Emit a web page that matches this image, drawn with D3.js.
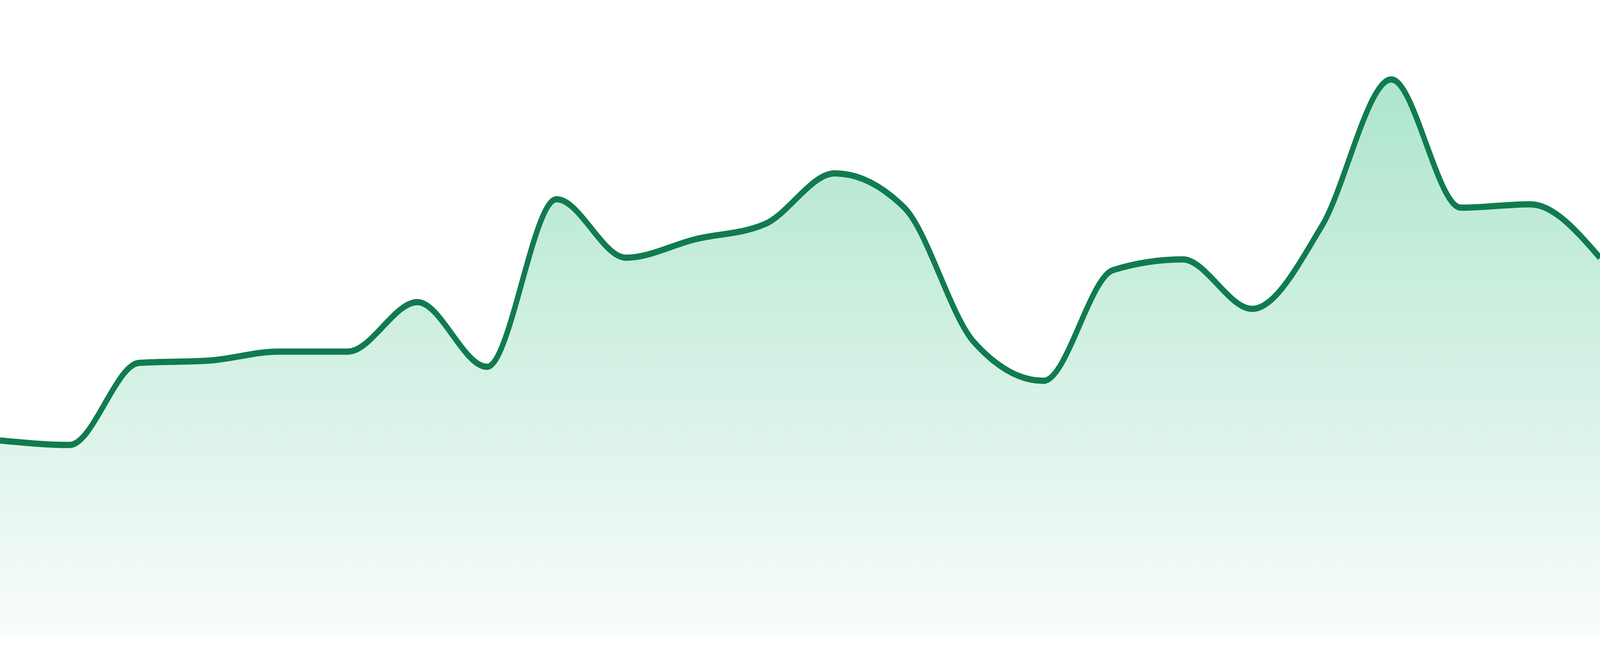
<head>
    <title>Area sparkline</title>
    <script src="https://d3js.org/d3.v7.min.js"></script>
    <style>
        html, body {
            margin: 0;
            width: 100%;
            height: 100%;
            overflow: hidden;
            background: #ffffff;
        }
        svg {
            display: block;
            width: 100vw;
            height: 100vh;
        }
    </style>
</head>
<body>
    <svg id="chart"></svg>

    <script>
        // Series (24 evenly spaced samples)
        const steps = d3.range(24);
        const values = [35.0, 34.2, 48.8, 49.2, 50.8, 50.8, 59.6, 48.1,
                        77.9, 67.5, 70.8, 73.5, 82.5, 76.4, 52.5, 45.6,
                        65.3, 67.2, 58.4, 73.1, 99.2, 76.4, 77.0, 67.5];

        // drawing space, stretched to whatever the window is
        const width = 4800;
        const height = 1680;
        const bottom = 1632;

        const svg = d3.select("#chart")
            .attr("viewBox", `0 0 ${width} ${height}`)
            .attr("preserveAspectRatio", "none");

        const x = d3.scaleLinear()
            .domain([0, steps.length - 1])
            .range([0, width]);

        const y = d3.scaleLinear()
            .domain([0, 100])
            .range([bottom, 192]);

        // Fill gradient, mint at the top fading out near the baseline
        const grad = svg.append("defs").append("linearGradient")
            .attr("id", "fade")
            .attr("gradientUnits", "userSpaceOnUse")
            .attr("x1", 0).attr("x2", 0)
            .attr("y1", y(d3.max(values))).attr("y2", bottom);
        grad.append("stop").attr("offset", 0).attr("stop-color", "#ade5cd");
        grad.append("stop").attr("offset", 1).attr("stop-color", "#f9fcfb");

        const area = d3.area()
            .x((d, i) => x(steps[i]))
            .y0(bottom)
            .y1(d => y(d))
            .curve(d3.curveMonotoneX);

        const line = d3.line()
            .x((d, i) => x(steps[i]))
            .y(d => y(d))
            .curve(d3.curveMonotoneX);

        svg.append("path")
            .datum(values)
            .attr("d", area)
            .attr("fill", "url(#fade)");

        svg.append("path")
            .datum(values)
            .attr("d", line)
            .attr("fill", "none")
            .attr("stroke", "#117b50")
            .attr("stroke-width", 16)
            .attr("stroke-linejoin", "round");
    </script>
</body>
</html>
